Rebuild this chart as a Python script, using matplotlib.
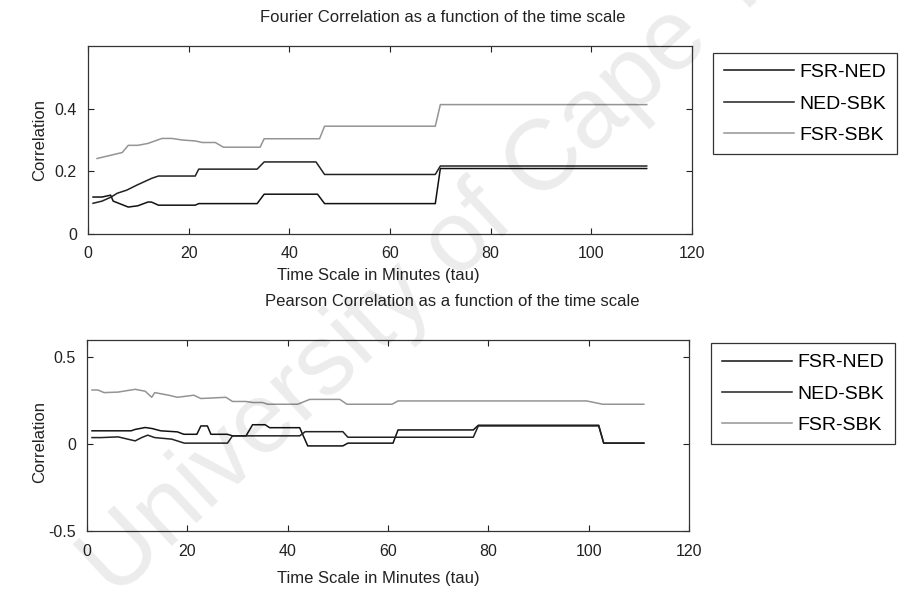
import matplotlib
matplotlib.use("Agg")
import matplotlib.pyplot as plt

plt.rcParams["font.family"] = ["Liberation Sans", "DejaVu Sans"]
plt.rcParams["font.size"] = 12

# --- Fourier correlation (top panel) ---
fourier_fsr_ned_tau = [1, 2.8, 4.5, 5, 8, 9.9, 11.9, 12.6, 14, 21.3, 22, 33.6, 35, 45.6, 47, 69, 70, 111]
fourier_fsr_ned = [0.118, 0.118, 0.124, 0.105, 0.086, 0.09, 0.102, 0.102, 0.092, 0.092, 0.097, 0.097,
                   0.127, 0.127, 0.097, 0.097, 0.209, 0.209]

fourier_ned_sbk_tau = [1, 2.8, 4.6, 5.8, 7.7, 9.7, 12.7, 14, 21.3, 22, 33.6, 35, 45.3, 47, 69, 70, 111]
fourier_ned_sbk = [0.098, 0.105, 0.118, 0.13, 0.14, 0.156, 0.178, 0.185, 0.185, 0.207, 0.207, 0.23,
                   0.23, 0.19, 0.19, 0.217, 0.217]

fourier_fsr_sbk_tau = [1.8, 6.8, 8, 9.9, 11.9, 14.7, 16.7, 18.7, 21.3, 22.7, 25.3, 26.9, 34.2, 35,
                       46, 47, 69, 70, 111]
fourier_fsr_sbk = [0.241, 0.26, 0.283, 0.283, 0.289, 0.305, 0.305, 0.3, 0.297, 0.292, 0.292, 0.277,
                   0.277, 0.304, 0.304, 0.344, 0.344, 0.413, 0.413]

# --- Pearson correlation (bottom panel) ---
pearson_fsr_ned_tau = [1, 8.8, 9.6, 11.6, 13, 14.7, 18, 19.3, 21.9, 22.7, 24, 24.7, 28, 29, 31.7, 33,
                       35.5, 36.4, 42.4, 44, 51, 52, 61, 62, 77, 78, 102, 103, 111]
pearson_fsr_ned = [0.077, 0.077, 0.085, 0.096, 0.09, 0.077, 0.071, 0.057, 0.057, 0.105, 0.105, 0.057,
                   0.057, 0.048, 0.048, 0.112, 0.112, 0.095, 0.095, -0.01, -0.01, 0.006, 0.006, 0.082,
                   0.082, 0.109, 0.109, 0.006, 0.006]

pearson_ned_sbk_tau = [1, 2.8, 6.2, 9.6, 10.9, 12.1, 13.5, 16.9, 19.4, 28, 29, 42.4, 43.5, 51, 52, 77,
                       78, 102, 103, 111]
pearson_ned_sbk = [0.038, 0.038, 0.042, 0.019, 0.038, 0.052, 0.038, 0.029, 0.006, 0.006, 0.048, 0.048,
                   0.072, 0.072, 0.04, 0.04, 0.105, 0.105, 0.006, 0.006]

pearson_fsr_sbk_tau = [1, 2.2, 3.4, 6.2, 9.6, 11.6, 12.9, 13.5, 16.3, 18, 21.3, 22.7, 27.7, 29, 31.7,
                       33, 35, 36, 42, 44.4, 50.4, 51.8, 60.8, 62, 99.6, 102.8, 111]
pearson_fsr_sbk = [0.312, 0.312, 0.297, 0.3, 0.316, 0.305, 0.27, 0.297, 0.282, 0.27, 0.282, 0.263,
                   0.27, 0.246, 0.246, 0.24, 0.24, 0.23, 0.23, 0.258, 0.258, 0.23, 0.23, 0.249, 0.249,
                   0.23, 0.23]

labels = ["FSR-NED", "NED-SBK", "FSR-SBK"]
x_ticks = [0, 20, 40, 60, 80, 100, 120]

fig = plt.figure(figsize=(9.02, 5.93), dpi=100)
W, H = 902, 593


def px_axes(left, top, right, bottom):
    return fig.add_axes([left / W, 1 - bottom / H, (right - left) / W, (bottom - top) / H])


ax1 = px_axes(88, 46, 692, 234)
ax2 = px_axes(87, 340, 689, 531)

ax1.plot(fourier_fsr_ned_tau, fourier_fsr_ned, color="#111111", lw=1.1, label=labels[0])
ax1.plot(fourier_ned_sbk_tau, fourier_ned_sbk, color="#222222", lw=1.1, label=labels[1])
ax1.plot(fourier_fsr_sbk_tau, fourier_fsr_sbk, color="#949494", lw=1.1, label=labels[2])
ax1.set_ylim(0, 0.6)
ax1.set_yticks([0, 0.2, 0.4])
ax1.set_yticklabels(["0", "0.2", "0.4"])

ax2.plot(pearson_fsr_ned_tau, pearson_fsr_ned, color="#111111", lw=1.1, label=labels[0])
ax2.plot(pearson_ned_sbk_tau, pearson_ned_sbk, color="#222222", lw=1.1, label=labels[1])
ax2.plot(pearson_fsr_sbk_tau, pearson_fsr_sbk, color="#949494", lw=1.1, label=labels[2])
ax2.set_ylim(-0.5, 0.6)
ax2.set_yticks([-0.5, 0, 0.5])
ax2.set_yticklabels(["-0.5", "0", "0.5"])

for ax in (ax1, ax2):
    ax.set_xlim(0, 120)
    ax.set_xticks(x_ticks)
    ax.tick_params(axis="both", direction="in", top=True, right=True, length=4, width=0.8,
                   labelsize=11.5, colors="#222222")
    ax.tick_params(axis="x", pad=9)
    ax.tick_params(axis="y", pad=8)
    for sp in ax.spines.values():
        sp.set_color("#333333")
        sp.set_linewidth(0.9)

# titles and labels placed where they sit in the reference
fig.text(443 / W, 1 - 18 / H, "Fourier Correlation as a function of the time scale",
         ha="center", va="center", fontsize=12, color="#222222")
fig.text(378 / W, 1 - 275 / H, "Time Scale in Minutes (tau)",
         ha="center", va="center", fontsize=12, color="#222222")
fig.text(40 / W, 1 - 140 / H, "Correlation", rotation=90,
         ha="center", va="center", fontsize=12, color="#222222")

fig.text(452 / W, 1 - 302 / H, "Pearson Correlation as a function of the time scale",
         ha="center", va="center", fontsize=12, color="#222222")
fig.text(378 / W, 1 - 578 / H, "Time Scale in Minutes (tau)",
         ha="center", va="center", fontsize=12, color="#222222")
fig.text(40 / W, 1 - 442 / H, "Correlation", rotation=90,
         ha="center", va="center", fontsize=12, color="#222222")

leg_kw = dict(loc="upper left", bbox_transform=fig.transFigure, borderaxespad=0,
              frameon=True, fancybox=False, framealpha=1, edgecolor="#333333",
              handlelength=3.6, handletextpad=0.3, labelspacing=0.7,
              borderpad=0.55, fontsize=14)
lg1 = ax1.legend(bbox_to_anchor=(713 / W, 1 - 53 / H), **leg_kw)
lg2 = ax2.legend(bbox_to_anchor=(711 / W, 1 - 343 / H), **leg_kw)
for lg in (lg1, lg2):
    lg.get_frame().set_linewidth(0.9)

# faint watermark over the whole page
fig.text(115 / W, 1 - 600 / H, "University of Cape Town", rotation=43,
         rotation_mode="anchor", ha="left", va="baseline", fontsize=72,
         color="#000000", alpha=0.08, zorder=10)

fig.savefig("out.png", dpi=100, facecolor="white")
